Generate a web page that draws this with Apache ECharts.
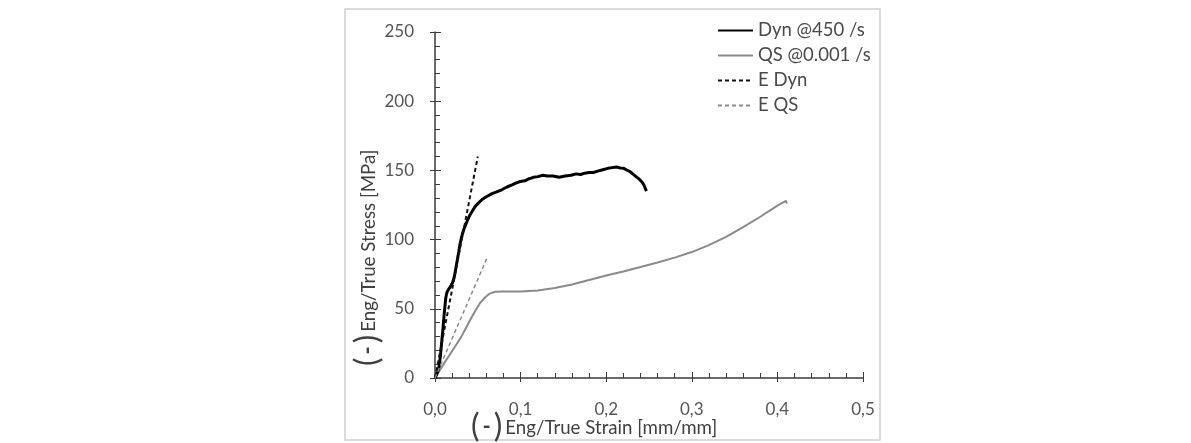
<!DOCTYPE html>
<html><head><meta charset="utf-8">
<script src="https://cdn.jsdelivr.net/npm/echarts@6/dist/echarts.min.js"></script>
<style>html,body{margin:0;padding:0;background:#fff}#c{width:1191px;height:443px}</style>
</head><body><div id="c"></div>
<script>
// Dynamic test @450 /s  [strain, stress MPa]
const dynData = [[0,0],[0.003,4],[0.0047,8],[0.0065,17],[0.008,27],[0.0095,37],[0.0107,46],[0.0118,53],[0.0126,58],[0.014,62],[0.0158,64],[0.018,66],[0.0206,69],[0.0225,73],[0.0237,77],[0.026,85],[0.0277,91],[0.029,96],[0.030,99],[0.032,104],[0.034,108],[0.036,111],[0.038,114],[0.041,118],[0.044,121],[0.047,124],[0.050,126],[0.055,129],[0.060,131],[0.066,133],[0.072,134.5],[0.078,136],[0.084,138],[0.090,139.5],[0.095,141],[0.0996,142],[0.105,142.5],[0.110,144],[0.115,145],[0.120,145.5],[0.126,146.5],[0.131,146],[0.138,146],[0.145,145],[0.152,146],[0.159,146.5],[0.165,147.5],[0.170,147],[0.175,148],[0.180,148.5],[0.185,148.5],[0.190,149.5],[0.196,150.5],[0.202,151.5],[0.207,152],[0.212,152.4],[0.216,151.8],[0.220,151.6],[0.224,150.3],[0.228,149],[0.232,147],[0.236,145],[0.239,143.5],[0.242,141.5],[0.244,139.5],[0.245,138],[0.247,135]];
// Quasi-static test @0.001 /s
const qsData = [[0,0],[0.01,10],[0.02,19.5],[0.03,29],[0.036,36],[0.042,43],[0.048,49.5],[0.053,54.5],[0.058,58],[0.064,61],[0.07,62.3],[0.08,62.5],[0.1,62.5],[0.12,63.3],[0.14,65],[0.16,67.5],[0.18,70.8],[0.2,74],[0.22,77],[0.24,80.2],[0.26,83.5],[0.28,87],[0.3,91],[0.32,96],[0.34,102],[0.36,109],[0.38,116.5],[0.4,124.5],[0.41,128],[0.411,126]];
// Elastic modulus lines
const eDynData = [[0,0],[0.05,160]];
const eQsData = [[0,0],[0.061,87]];
const seriesNames = ['Dyn @450 /s','QS @0.001 /s','E Dyn','E QS'];
const xTickLabels = ['0,0','0,1','0,2','0,3','0,4','0,5'];
const yTickLabels = ['0','50','100','150','200','250'];

const FONT = 'Lato, "Open Sans", sans-serif';
const txt = '#555555';
const axisCol = '#3a3a3a';
const chart = echarts.init(document.getElementById('c'));
const gridBox = {left:435, right:328, top:32, bottom:65};
const richName = {
  p:{fontSize:32, fontFamily:FONT, fill:'#404040'},
  d:{fontSize:22, fontFamily:FONT, fontWeight:'bold', fill:'#404040', padding:[0,3,0,3]},
  t:{fontSize:18.7, fontFamily:FONT, fill:'#404040', padding:[2,0,0,3]}
};
chart.setOption({
  backgroundColor:'#ffffff',
  animation:false,
  textStyle:{fontFamily:FONT},
  grid:[Object.assign({}, gridBox), Object.assign({}, gridBox)],
  legend:{
    orient:'vertical', left:712, top:16, itemWidth:35, itemHeight:14, itemGap:6,
    itemStyle:{opacity:0},
    textStyle:{fontFamily:FONT, fontSize:18.5, color:'#4a4a4a'},
    data:seriesNames
  },
  xAxis:[{
    type:'value', min:0, max:0.5, interval:0.1, gridIndex:0,
    axisLine:{show:true, lineStyle:{color:axisCol, width:1.5}},
    axisTick:{show:true, inside:true, length:6, lineStyle:{color:axisCol}},
    minorTick:{show:true, splitNumber:5, length:5, lineStyle:{color:axisCol}},
    splitLine:{show:false},
    axisLabel:{fontFamily:FONT, fontSize:17, color:txt, margin:23,
      formatter:(v)=>xTickLabels[Math.round(v*10)]}
  },{
    type:'value', min:0, max:0.5, interval:0.1, gridIndex:1,
    axisLine:{show:false}, axisLabel:{show:false}, splitLine:{show:false},
    axisTick:{show:true, inside:false, length:4, lineStyle:{color:axisCol}}
  }],
  yAxis:[{
    type:'value', min:0, max:250, interval:50, gridIndex:0,
    axisLine:{show:true, lineStyle:{color:axisCol, width:1.5}},
    axisTick:{show:true, inside:true, length:6, lineStyle:{color:axisCol}},
    minorTick:{show:true, splitNumber:5, length:5, lineStyle:{color:axisCol}},
    splitLine:{show:false},
    axisLabel:{fontFamily:FONT, fontSize:17, color:txt, margin:21,
      formatter:(v)=>yTickLabels[Math.round(v/50)]}
  },{
    type:'value', min:0, max:250, interval:50, gridIndex:1,
    axisLine:{show:false}, axisLabel:{show:false}, splitLine:{show:false},
    axisTick:{show:true, inside:false, length:5, lineStyle:{color:axisCol}}
  }],
  series:[
    {name:seriesNames[0], type:'line', data:dynData, symbol:'none', z:4,
     lineStyle:{color:'#000', width:3}, itemStyle:{color:'#000'}},
    {name:seriesNames[1], type:'line', data:qsData, symbol:'none', z:3,
     lineStyle:{color:'#8a8a8a', width:2}, itemStyle:{color:'#8a8a8a'}},
    {name:seriesNames[2], type:'line', data:eDynData, symbol:'none', z:5,
     lineStyle:{color:'#111', width:2, type:[4,3]}, itemStyle:{color:'#111'}},
    {name:seriesNames[3], type:'line', data:eQsData, symbol:'none', z:5,
     lineStyle:{color:'#8a8a8a', width:1.5, type:[4,3]}, itemStyle:{color:'#8a8a8a'}}
  ],
  graphic:[
    {type:'rect', shape:{x:345, y:9, width:535, height:431}, silent:true, z:-1,
     style:{fill:'none', stroke:'#cfcfcf', lineWidth:1.5}},
    {type:'text', x:471, y:427, style:{
      text:'{p|(}{d|-}{p|)}{t|Eng/True Strain [mm/mm]}', fontFamily:FONT, fontSize:18.7, fill:'#404040',
      align:'left', verticalAlign:'middle', rich:richName}},
    {type:'text', x:368, y:366, rotation:Math.PI/2, style:{
      text:'{p|(}{d|-}{p|)}{t|Eng/True Stress [MPa]}', fontFamily:FONT, fontSize:18.7, fill:'#404040',
      align:'left', verticalAlign:'middle', rich:richName}}
  ]
});
</script></body></html>
